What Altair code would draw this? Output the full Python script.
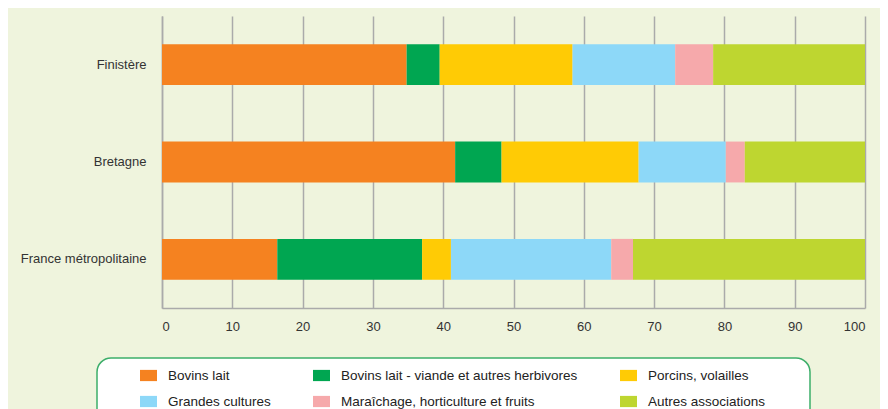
import altair as alt
import pandas as pd

regions = ["Finistère", "Bretagne", "France métropolitaine"]
categories = [
    "Bovins lait",
    "Bovins lait - viande et autres herbivores",
    "Porcins, volailles",
    "Grandes cultures",
    "Maraîchage, horticulture et fruits",
    "Autres associations",
]
finistere = [34.8, 4.7, 18.9, 14.6, 5.4, 21.6]
bretagne = [41.7, 6.6, 19.5, 12.4, 2.7, 17.1]
france = [16.4, 20.6, 4.1, 22.8, 3.1, 33.0]
colors = ["#F58220", "#00A651", "#FFCB05", "#8DD8F8", "#F6A9AB", "#BED630"]
x_ticks = list(range(0, 101, 10))

rows = []
for reg, vals in zip(regions, [finistere, bretagne, france]):
    for i, (cat, v) in enumerate(zip(categories, vals)):
        rows.append({"region": reg, "category": cat, "value": v, "order": i})
df = pd.DataFrame(rows)

FONT = "Liberation Sans, Arial, sans-serif"

bars = alt.Chart(df).mark_bar().encode(
    y=alt.Y(
        "region:N",
        sort=regions,
        scale=alt.Scale(paddingInner=0.58, paddingOuter=0.29),
        axis=alt.Axis(
            title=None, ticks=False, labelPadding=16, labelFont=FONT,
            labelFontSize=13, labelColor="#333333", domainColor="#AAAAAA",
            domainWidth=1.5, grid=False,
        ),
    ),
    x=alt.X(
        "value:Q",
        stack="zero",
        scale=alt.Scale(domain=[0, 100], nice=False),
        axis=alt.Axis(
            title=None, values=x_ticks, ticks=False, labelPadding=12,
            labelFont=FONT, labelFontSize=13, labelColor="#333333",
            grid=True, gridColor="#AAAAAA", gridWidth=1.5,
            domainColor="#AAAAAA", domainWidth=1.5,
        ),
    ),
    color=alt.Color(
        "category:N",
        sort=categories,
        scale=alt.Scale(domain=categories, range=colors),
        legend=alt.Legend(
            title=None, orient="none", legendX=-22, legendY=351, columns=3,
            direction="horizontal",
            symbolType="M-1,-0.66L1,-0.66L1,0.66L-1,0.66Z", symbolSize=289,
            symbolStrokeWidth=0, labelFont=FONT, labelFontSize=13.5,
            labelColor="#222222", labelOffset=11, rowPadding=11,
            columnPadding=42, labelLimit=400, padding=0, zindex=1,
        ),
    ),
    order=alt.Order("order:Q"),
)

box = alt.Chart(pd.DataFrame({"k": [0]})).mark_rect(
    fill="white", stroke="#3DAE6A", strokeWidth=1.5, cornerRadius=14
).encode(
    x=alt.value(-65), x2=alt.value(648), y=alt.value(342), y2=alt.value(440)
)

chart = alt.layer(box, bars).properties(
    width=703,
    height=292,
    autosize=alt.AutoSizeParams(type="none"),
    padding={"left": 154, "top": 8, "right": 15, "bottom": 110},
    background="#EFF4DD",
).configure_view(stroke=None)

chart.save("out.html", embed_options={"renderer": "svg", "actions": False})
